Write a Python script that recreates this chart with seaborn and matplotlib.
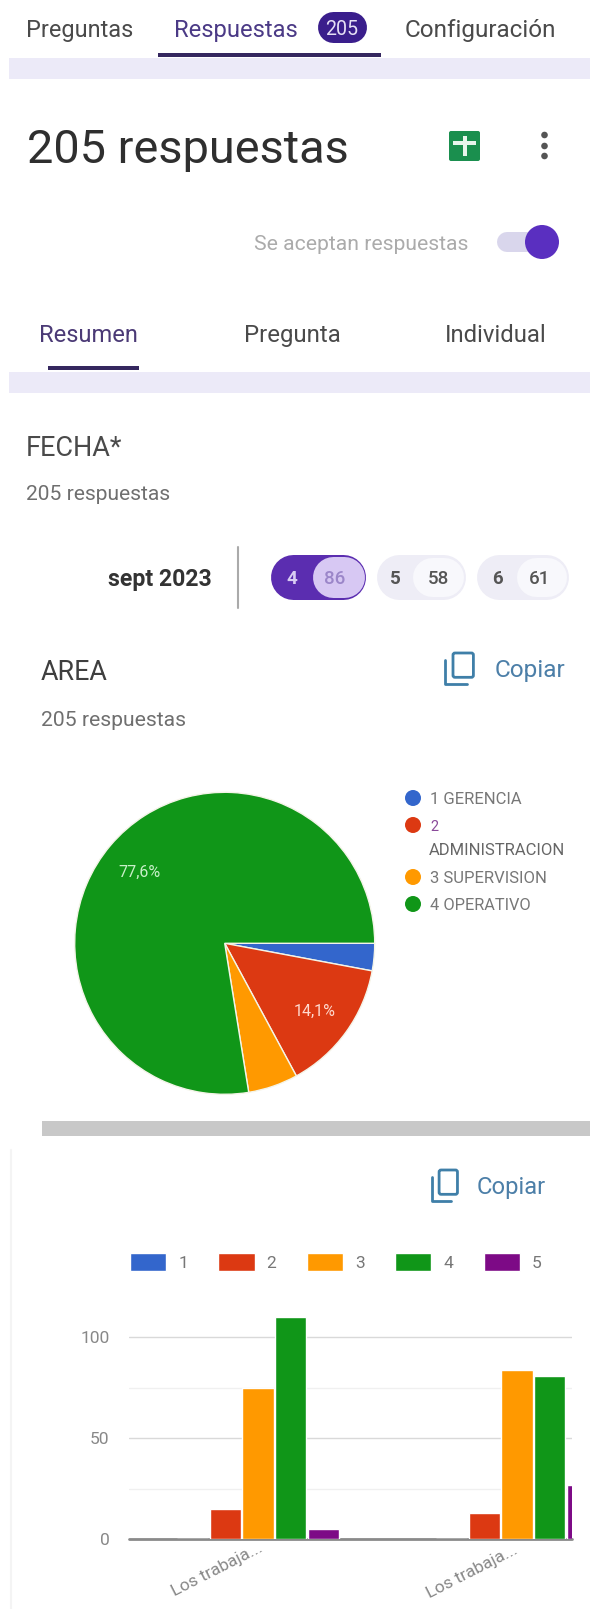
import matplotlib
matplotlib.use("Agg")
import matplotlib.pyplot as plt
from matplotlib import font_manager as fm
from matplotlib.patches import Circle, FancyBboxPatch, Rectangle
import pandas as pd
import seaborn as sns

W, H = 590, 1609

# Survey data
area_labels = ["1 GERENCIA", "2 ADMINISTRACION", "3 SUPERVISION", "4 OPERATIVO"]
area_counts = [6, 29, 11, 159]
area_colors = ["#3366CC", "#DC3912", "#FF9900", "#109618"]

questions = ["Los trabaja...", "Los trabaja... "]
ratings = ["1", "2", "3", "4", "5"]
rating_colors = ["#3366CC", "#DC3912", "#FF9900", "#109618", "#7D0A86"]
question_1 = [0, 15, 75, 110, 5]
question_2 = [0, 13, 84, 81, 27]

date_days = ["4", "5", "6"]
date_counts = ["86", "58", "61"]

sns.set_theme(style="white")
plt.rcParams["font.family"] = ["Roboto", "DejaVu Sans"]
installed = {f.name for f in fm.fontManager.ttflist}
NARROW = "Liberation Sans Narrow" if "Liberation Sans Narrow" in installed else "Roboto"

fig = plt.figure(figsize=(W / 100, (H + 0.01) / 100), dpi=100, facecolor="white")
ui = fig.add_axes([0, 0, 1, 1], zorder=0)
ui.set_xlim(0, W)
ui.set_ylim(H, 0)
ui.axis("off")
renderer = fig.canvas.get_renderer()


def fit(s, left, right, yc, color="#444444", family=None, weight="normal", base=20):
    """Write s centred on yc, sized so that it spans left..right in pixels."""
    t = ui.text(left, yc, s, color=color, fontsize=base, va="center_baseline", ha="left",
                weight=weight, family=family or ["Roboto", "DejaVu Sans"])
    width = t.get_window_extent(renderer).width
    t.set_fontsize(base * (right - left) / width)
    return t


def box(x0, x1, y0, y1, color):
    ui.add_patch(Rectangle((x0, y0), x1 - x0, y1 - y0, color=color, lw=0))


def pill(x0, x1, y0, y1, color):
    """Fully rounded capsule, drawn as a thick line with round caps."""
    h = y1 - y0
    ui.plot([x0 + h / 2, x1 - h / 2], [(y0 + y1) / 2] * 2, color=color, lw=h * 0.72,
            solid_capstyle="round")


def copy_icon(x0, x1, y0, y1, color="#3F7FA8"):
    w, h = x1 - x0, y1 - y0
    ui.add_patch(FancyBboxPatch((x0 + 0.3 * w, y0), 0.68 * w, 0.76 * h,
                                boxstyle="round,pad=0,rounding_size=2",
                                fc="none", ec=color, lw=2))
    ui.plot([x0 + 1, x0 + 1, x0 + 0.75 * w], [y0 + 0.22 * h, y1 - 1, y1 - 1],
            color=color, lw=2, solid_capstyle="round")


# Top tab bar
fit("Preguntas", 26, 133, 27.5, "#4a4a4a")
fit("Respuestas", 174, 297, 27.5, "#4b3a86")
pill(317, 366, 12, 43, "#3A1E8C")
fit("205", 325, 358, 27.5, "#e6e0f5")
box(158, 381, 53, 57.5, "#35275F")
fit("Configuración", 405, 557, 27.5, "#4a4a4a")
box(9, W, 58, 79, "#ECEAF8")

# Header
fit("205 respuestas", 27, 348, 145, "#2f2f2f")
ui.add_patch(FancyBboxPatch((449, 131), 31, 30, boxstyle="round,pad=0,rounding_size=2",
                            fc="#1A8F4E", ec="none"))
box(463, 467, 136, 156, "#e8f5ec")
box(453, 476, 141, 145, "#e8f5ec")
for y in (135, 146, 156):
    ui.add_patch(Circle((544.5, y), 3.3, color="#555555", lw=0))
fit("Se aceptan respuestas", 254, 468, 242, "#ababab")
pill(497, 548, 232, 252, "#D9D6EC")
ui.add_patch(Circle((542, 242), 17, color="#5A2FC0", lw=0, zorder=4))

# Summary tabs
fit("Resumen", 39, 137, 333, "#4b3a76")
fit("Pregunta", 243.5, 340, 333, "#4a4a4a")
fit("Individual", 445, 547, 333, "#4a4a4a")
box(48, 139, 366, 370, "#35275F")
box(9, W, 372, 393, "#ECEAF8")

# Date question
fit("FECHA*", 26, 123, 445, "#4a4a4a")
fit("205 respuestas", 26, 170, 492, "#6f6f6f")
fit("sept 2023", 108, 211, 577, "#333333", weight="bold")
ui.plot([238, 238], [547, 608], color="#aaaaaa", lw=1.5)
pill(270, 365, 555, 600, "#5B2DB0")
pill(312, 364, 557, 598, "#D7C8F3")
pill(376, 465, 555, 600, "#EEEDF6")
pill(476, 568, 555, 600, "#EEEDF6")
pill(412, 463, 558, 597, "#F8F8FC")
pill(516, 566, 558, 597, "#F8F8FC")
for x, s, c in zip((292, 395, 497), date_days, ("#d9cdf3", "#555555", "#555555")):
    ui.text(x, 577, s, color=c, fontsize=13.5, ha="center", va="center_baseline", weight="bold")
for x, s, c in zip((335, 438.5, 540), date_counts, ("#9B86C9", "#555555", "#555555")):
    ui.text(x, 577, s, color=c, fontsize=13.5, ha="center", va="center_baseline", weight="medium")

# Area question header
fit("AREA", 41, 108, 669, "#3f3f3f")
fit("205 respuestas", 41, 186, 718, "#6f6f6f")
copy_icon(444, 474, 653, 685)
fit("Copiar", 495, 566, 668, "#4C7FA8")

# Area pie chart
pie_ax = fig.add_axes([(224.7 - 150) / W, 1 - (943.3 + 151) / H, 300 / W, 302 / H], zorder=1)
pie_ax.pie(area_counts, colors=area_colors, startangle=0, counterclock=False, radius=1,
           wedgeprops=dict(edgecolor="#f4f4e8", linewidth=1))
pie_ax.set_aspect("auto")
pie_ax.set_xlim(-1, 1)
pie_ax.set_ylim(-1, 1)
pct = [100 * c / sum(area_counts) for c in area_counts]
pie_ax.text(-0.57, 0.47, f"{pct[3]:.1f}%".replace(".", ","), color="#c8f0c8", fontsize=11.5,
            ha="center", va="center", family=NARROW)
pie_ax.text(0.6, -0.45, f"{pct[1]:.1f}%".replace(".", ","), color="#ffd9cf", fontsize=11.5,
            ha="center", va="center", family=NARROW)

# Pie legend, with the long label wrapped onto a second line
for y, c in zip((798, 825, 877, 904), area_colors):
    ui.add_patch(Circle((413, y), 8, color=c, lw=0))
fit(area_labels[0], 430, 522, 798, "#777777", NARROW)
fit("2", 430, 438, 825, "#8a4a9a", NARROW)
fit(area_labels[1].split(" ")[1], 429, 566, 849, "#666666", NARROW)
fit(area_labels[2], 430, 547, 877, "#777777", NARROW)
fit(area_labels[3], 430, 531, 904, "#777777", NARROW)

# Section separator and next card
box(42, W, 1121, 1136, "#C8C8C8")
ui.plot([11, 11], [1150, H], color="#F4F4F4", lw=1.5)
copy_icon(431, 458, 1170, 1202)
fit("Copiar", 477, 546, 1185, "#4C7FA8")

# Grouped bars
ratings_df = pd.DataFrame({
    "question": [questions[0]] * 5 + [questions[1]] * 5,
    "rating": ratings * 2,
    "count": question_1 + question_2,
})
axis_left, axis_right, axis_zero = 129, 572, 1539.3
px_per_unit = 2.02
y_top = 115
bar_ax = fig.add_axes([axis_left / W, 1 - axis_zero / H, (axis_right - axis_left) / W,
                       y_top * px_per_unit / H], zorder=1)
bar_ax.patch.set_alpha(0)
sns.barplot(data=ratings_df, x="question", y="count", hue="rating", hue_order=ratings,
            palette=rating_colors, width=0.63, gap=0.05, saturation=1, ax=bar_ax,
            legend=True, zorder=3)
bar_ax.set_xlim((axis_left - 258) / 259, (axis_right - 258) / 259)
bar_ax.set_ylim(0, y_top)
bar_ax.set_xlabel("")
bar_ax.set_ylabel("")
bar_ax.set_yticks([0, 50, 100])
bar_ax.set_yticks([25, 75], minor=True)
bar_ax.grid(False)
bar_ax.grid(True, axis="y", which="major", color="#D9D9D9", lw=1, zorder=0)
bar_ax.grid(True, axis="y", which="minor", color="#F0F0F0", lw=1, zorder=0)
bar_ax.set_axisbelow(True)
sns.despine(ax=bar_ax, left=True, right=True, top=True, bottom=True)
bar_ax.axhline(0, color="#8a8a8a", lw=2, zorder=2, clip_on=False)
bar_ax.tick_params(axis="y", which="both", length=0, pad=14, labelsize=12.5, labelcolor="#888888")
bar_ax.tick_params(axis="x", length=0, pad=1, labelsize=12.5, labelcolor="#888888")
for lab in bar_ax.get_xticklabels():
    lab.set_rotation(27)
    lab.set_ha("right")
    lab.set_rotation_mode("anchor")

handles, labels = bar_ax.get_legend_handles_labels()
bar_ax.legend(handles, labels, ncol=5, frameon=False, fontsize=12.5, labelcolor="#777777",
              handlelength=2.08, handleheight=1.2, handletextpad=0.7, columnspacing=1.75,
              loc="center left", bbox_to_anchor=(130 / W, 1 - 1262 / H),
              bbox_transform=fig.transFigure, borderaxespad=0, borderpad=0)

fig.savefig("out.png", dpi=100, facecolor="white")
